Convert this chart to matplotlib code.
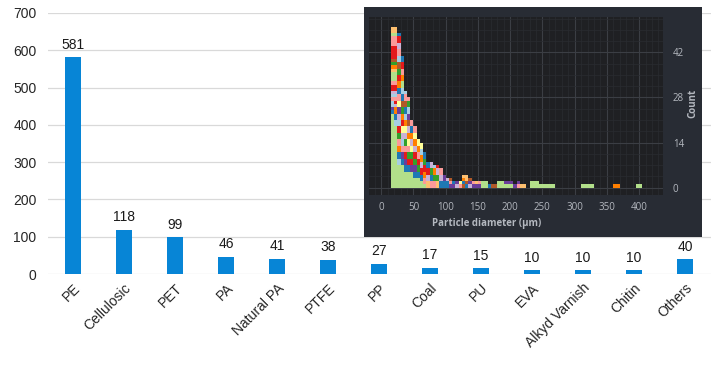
import matplotlib
matplotlib.use("Agg")
import matplotlib.pyplot as plt
from matplotlib.patches import Rectangle
from matplotlib.ticker import MultipleLocator

# main bar chart data
categories = ["PE", "Cellulosic", "PET", "PA", "Natural PA", "PTFE", "PP",
              "Coal", "PU", "EVA", "Alkyd Varnish", "Chitin", "Others"]
counts = [581, 118, 99, 46, 41, 38, 27, 17, 15, 10, 10, 10, 40]

# inset histogram: bin start (um) and stacked colour blocks, one letter = one particle
bin_width = 5
hist_start = [15, 20, 25, 30, 35, 40, 45, 50, 55, 60, 65, 70, 75, 80, 85, 90,
              95, 100, 105, 110, 115, 120, 125, 130, 135, 140, 145, 150, 155,
              160, 165, 170, 175, 180, 185, 190, 195, 200, 205, 210, 215, 220,
              230, 235, 240, 245, 250, 255, 260, 265, 310, 315, 320, 325,
              360, 365, 395, 400]
top_column = "palrrpgggoOGnrrrrpppgoo"
hist_stack = [
    "g" * 23 + "bvaa" + top_column,
    "g" * 19 + "aabbOOlr" + top_column,
    "g" * 7 + "aabbOOppGGrraallvvyyppbbOOrrGGnnaappllrrb",
    "g" * 7 + "bbvvppaallyyrrOOGGnnbbaaggOOpprrbb",
    "g" * 5 + "bbvvrrppGGllyyOOaabbnnppa",
    "g" * 5 + "bbrrGGppyyOOllnnvvaaGGp",
    "g" * 5 + "vvrrGGyyllOObbpp",
    "g" * 3 + "bbvvGGrrllOOyypp",
    "g" * 3 + "bbGGrrppOOyy",
    "g" * 2 + "bbrrllOOaayy",
    "g" + "ppOOrrGGbb",
    "oollrrbb", "ppbbGGll", "ppGGOOa", "ooGGllr", "bbllpp",
    "bbvv", "bbl", "vpn", "vb", "lv", "py", "nbOo", "bnoo", "lvn",
    "vp", "vo", "vp", "gg", "gg", "b", "n", "n", "gg", "gg", "gv", "gv",
    "gv", "v", "pv", "o", "o",
    "gg", "gg", "gg", "g", "g", "g", "g", "g",
    "g", "g", "g", "g",
    "O", "O", "g", "g",
]
palette = {
    "a": "#a6cee3", "b": "#1f78b4", "g": "#b2df8a", "G": "#33a02c",
    "p": "#fb9a99", "r": "#e31a1c", "o": "#fdbf6f", "O": "#ff7f00",
    "l": "#cab2d6", "v": "#6a3d9a", "y": "#ffff99", "n": "#b15928",
}

plt.rcParams["font.family"] = ["Liberation Sans", "DejaVu Sans"]
W, H = 713, 378
fig = plt.figure(figsize=(W / 100, H / 100), dpi=100)

# ---- bar chart ----
ax = fig.add_axes([47.5 / W, 1 - 274 / H, 663 / W, 261 / H])
x = range(len(categories))
ax.bar(x, counts, width=0.31, color="#0785d6", zorder=2)
for i, v in enumerate(counts):
    ax.annotate(str(v), (i, v), xytext=(0, 4), textcoords="offset points",
                ha="center", va="bottom", fontsize=10, color="#1a1a1a")
ax.set_xlim(-0.5, 12.5)
ax.set_ylim(0, 700)
ax.set_yticks(range(0, 701, 100))
ax.set_xticks(list(x))
ax.set_xticklabels(categories, rotation=45, ha="right", rotation_mode="anchor")
ax.yaxis.grid(True, color="#d9d9d9", lw=0.9, zorder=0)
ax.set_axisbelow(True)
for s in ax.spines.values():
    s.set_visible(False)
ax.tick_params(axis="y", length=0, pad=8, labelsize=10, colors="#262626")
ax.tick_params(axis="x", length=0, pad=5, labelsize=10, colors="#262626")

# ---- inset panel ----
fig.add_artist(Rectangle((364 / W, 1 - 237 / H), 338 / W, 230 / H,
                         transform=fig.transFigure, facecolor="#282c34",
                         edgecolor="none", zorder=3))
ins = fig.add_axes([369 / W, 1 - 195 / H, 294 / W, 178 / H])
ins.set_zorder(4)
ins.set_facecolor("#1f2023")

for left, stack in zip(hist_start, hist_stack):
    bottom = 0
    j = 0
    while j < len(stack):
        ch = stack[j]
        k = j
        while k < len(stack) and stack[k] == ch:
            k += 1
        n = k - j
        ins.bar(left, n, width=bin_width, bottom=bottom, align="edge",
                color=palette[ch], linewidth=0, zorder=2)
        bottom += n
        j = k

ins.set_xlim(-19, 437)
ins.set_ylim(-2.3, 53)
ins.set_xticks(range(0, 401, 50))
ins.set_yticks([0, 14, 28, 42])
ins.xaxis.set_minor_locator(MultipleLocator(10))
ins.yaxis.set_minor_locator(MultipleLocator(3.5))
ins.yaxis.tick_right()
ins.grid(True, which="major", color="#3b3e44", lw=0.8)
ins.grid(True, which="minor", color="#2a2c31", lw=0.5)
ins.set_axisbelow(True)
for s in ins.spines.values():
    s.set_visible(False)
ins.tick_params(which="both", length=0)
ins.tick_params(axis="x", pad=5, labelsize=7, colors="#b4b8bf")
ins.tick_params(axis="y", pad=7, labelsize=7, colors="#b4b8bf")
for lab in ins.get_xticklabels() + ins.get_yticklabels():
    lab.set_family(["Open Sans", "DejaVu Sans"])

fig.text(693 / W, 1 - 103 / H, "Count", rotation=90, ha="center", va="center",
         fontsize=7, fontweight="bold", color="#b4b8bf",
         family=["Open Sans", "DejaVu Sans"], zorder=5)
fig.text(487 / W, 1 - 223 / H, "Particle diameter (µm)", ha="center",
         va="center", fontsize=7, fontweight="bold", color="#b4b8bf",
         family=["Open Sans", "DejaVu Sans"], zorder=5)

fig.savefig("out.png", dpi=100)
